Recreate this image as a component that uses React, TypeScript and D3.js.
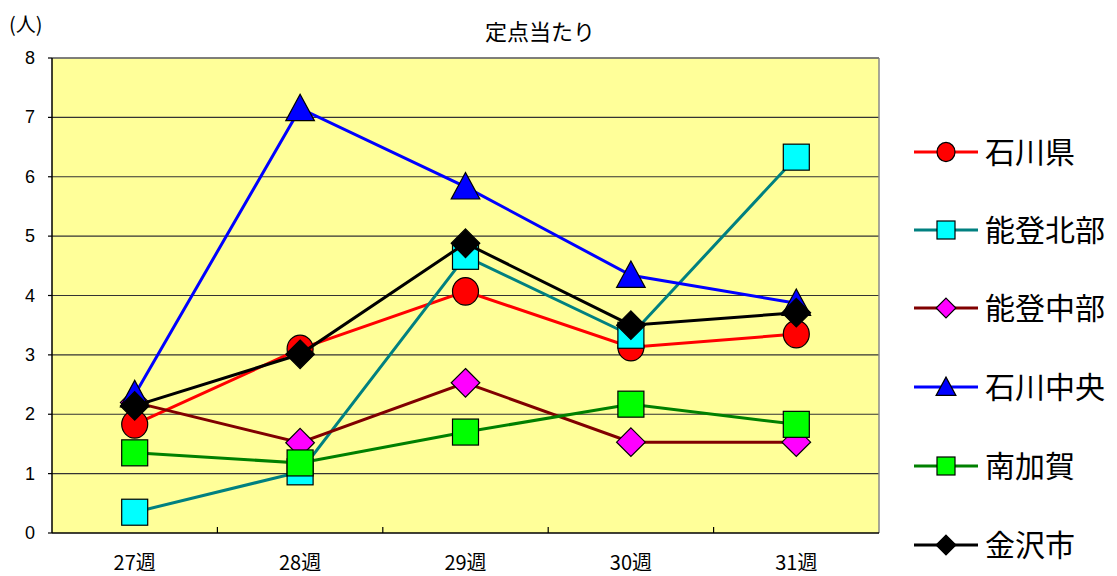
import React from "react";
import * as d3 from "d3";

const weeks = ["27週", "28週", "29週", "30週", "31週"];
const yTicks = [0, 1, 2, 3, 4, 5, 6, 7, 8];
const ishikawa = [1.83, 3.1, 4.07, 3.13, 3.35];
const notoHokubu = [0.35, 1.03, 4.66, 3.33, 6.33];
const notoChubu = [2.2, 1.52, 2.53, 1.53, 1.53];
const ishikawaChuo = [2.33, 7.15, 5.83, 4.34, 3.87];
const minamiKaga = [1.35, 1.18, 1.7, 2.17, 1.83];
const kanazawa = [2.14, 3.01, 4.88, 3.5, 3.71];

const series = [
  { name: "石川県", values: ishikawa, line: "#FF0000", fill: "#FF0000", shape: "circle" },
  { name: "能登北部", values: notoHokubu, line: "#008080", fill: "#00FFFF", shape: "square" },
  { name: "能登中部", values: notoChubu, line: "#800000", fill: "#FF00FF", shape: "diamond" },
  { name: "石川中央", values: ishikawaChuo, line: "#0000FF", fill: "#0000FF", shape: "triangle" },
  { name: "南加賀", values: minamiKaga, line: "#008000", fill: "#00FF00", shape: "square" },
  { name: "金沢市", values: kanazawa, line: "#000000", fill: "#000000", shape: "diamond" },
];

const W = 1117, H = 576;
const left = 52, right = 879, top = 58, bottom = 533;
const FONT = "'Liberation Sans', Arial, 'Noto Sans CJK JP', sans-serif";
const JFONT = "'Noto Sans CJK JP', 'Liberation Sans', sans-serif";

function Marker({ shape, fill, x, y, s }: { shape: string; fill: string; x: number; y: number; s: number }) {
  const st = { fill, stroke: "#000", strokeWidth: 1.2 };
  if (shape === "circle") return <ellipse cx={x} cy={y} rx={s * 0.5} ry={s * 0.53} {...st} />;
  if (shape === "square") return <rect x={x - s / 2} y={y - s / 2} width={s} height={s} {...st} />;
  if (shape === "diamond") {
    const h = s * 0.55;
    return <path d={`M${x},${y - h}L${x + h},${y}L${x},${y + h}L${x - h},${y}Z`} {...st} />;
  }
  const h = s * 0.55;
  return <path d={`M${x},${y - h}L${x + h},${y + h * 0.85}L${x - h},${y + h * 0.85}Z`} {...st} />;
}

export default function App() {
  const x = d3.scaleBand().domain(weeks).range([left, right]);
  const y = d3.scaleLinear().domain([0, 8]).range([bottom, top]);
  const cx = (w: string) => (x(w) as number) + x.bandwidth() / 2;
  const line = d3
    .line<number>()
    .x((_, i) => cx(weeks[i]))
    .y((v) => y(v));
  const legendY = [152, 230, 308, 387, 466, 545];

  return (
    <svg width={W} height={H} style={{ position: "absolute", left: 0, top: 0 }}>
      <rect x={0} y={0} width={W} height={H} fill="#fff" />
      <rect x={left} y={top} width={right - left} height={bottom - top} fill="#FFFF99" />
      {yTicks.slice(1).map((t) => (
        <line key={t} x1={left} x2={right} y1={y(t)} y2={y(t)} stroke="#333" strokeWidth={1.2} />
      ))}
      <line x1={right} x2={right} y1={top} y2={bottom} stroke="#888" strokeWidth={1.5} />
      <line x1={left} x2={right} y1={top} y2={top} stroke="#777" strokeWidth={1.5} />
      <line x1={left} x2={left} y1={top} y2={bottom} stroke="#000" strokeWidth={1.5} />
      <line x1={left} x2={right} y1={bottom} y2={bottom} stroke="#000" strokeWidth={1.5} />
      {yTicks.map((t) => (
        <g key={t}>
          <line x1={left - 4} x2={left} y1={y(t)} y2={y(t)} stroke="#000" strokeWidth={1.2} />
          <text x={35} y={y(t) + 6} textAnchor="end" fontSize={18} fontFamily={FONT} fill="#000">
            {t}
          </text>
        </g>
      ))}
      {weeks.map((w, i) => (
        <g key={w}>
          {i > 0 && (
            <line x1={x(w)} x2={x(w)} y1={bottom} y2={bottom - 6} stroke="#000" strokeWidth={1.2} />
          )}
          <text x={cx(w)} y={570} textAnchor="middle" fontSize={20} fontFamily={JFONT} fill="#000">
            {w}
          </text>
        </g>
      ))}
      <text x={9} y={32} fontSize={20} fontFamily={JFONT} fill="#000">(人)</text>
      <text x={540} y={40} textAnchor="middle" fontSize={22} fontFamily={JFONT} fill="#000">
        定点当たり
      </text>
      {series.map((s) => (
        <g key={s.name}>
          <path d={line(s.values) || ""} fill="none" stroke={s.line} strokeWidth={3} />
          {s.values.map((v, i) => (
            <Marker key={i} shape={s.shape} fill={s.fill} x={cx(weeks[i])} y={y(v)} s={26} />
          ))}
        </g>
      ))}
      {series.map((s, i) => (
        <g key={s.name}>
          <line x1={914} x2={978} y1={legendY[i]} y2={legendY[i]} stroke={s.line} strokeWidth={3} />
          <Marker shape={s.shape} fill={s.fill} x={946} y={legendY[i]} s={18} />
          <text x={985} y={legendY[i] + 11} fontSize={30} fontFamily={JFONT} fill="#000">
            {s.name}
          </text>
        </g>
      ))}
    </svg>
  );
}
